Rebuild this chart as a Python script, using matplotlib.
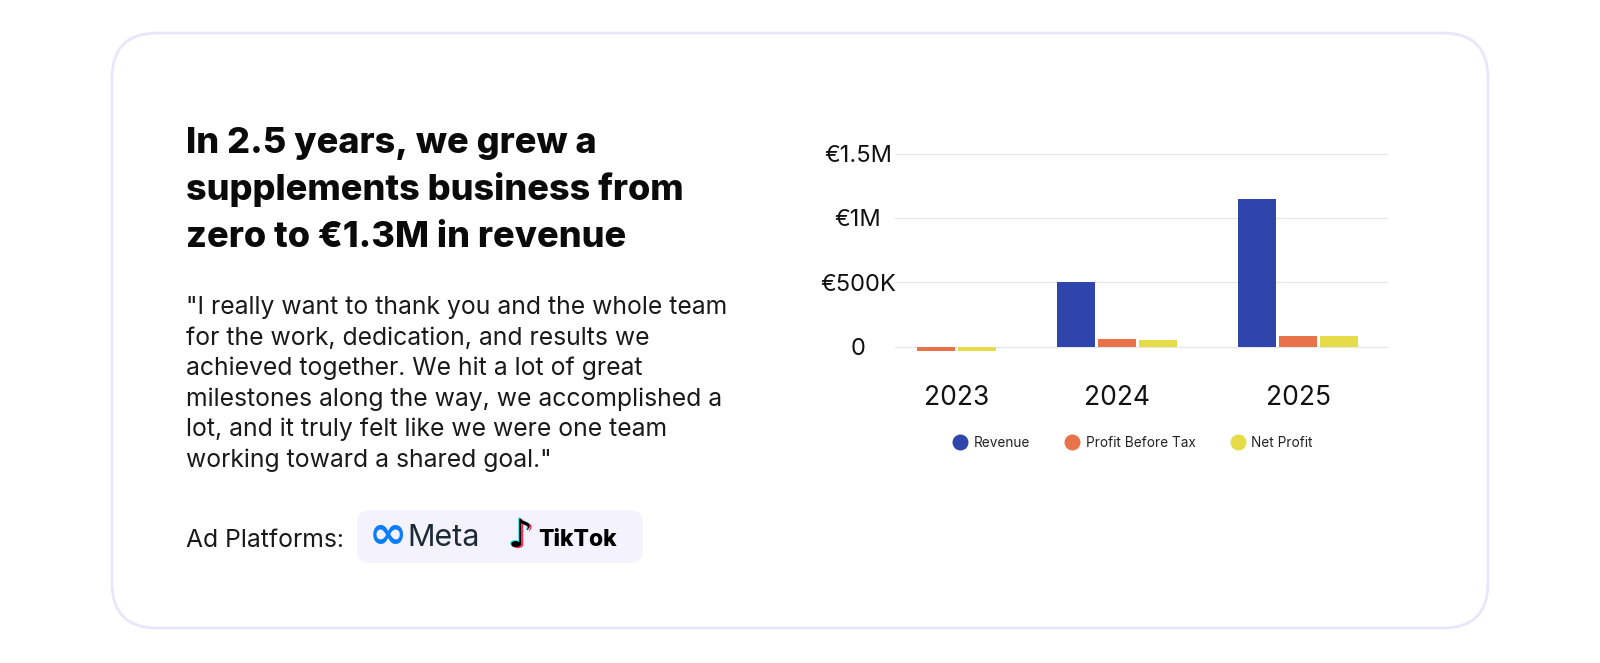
import matplotlib.pyplot as plt
from matplotlib.patches import FancyBboxPatch
from matplotlib.lines import Line2D
import numpy as np

# chart data
years = ["2023", "2024", "2025"]
revenue = [None, 500000, 1150000]
profit_before_tax = [-32000, 57000, 83000]
net_profit = [-32000, 55000, 82000]
series_names = ["Revenue", "Profit Before Tax", "Net Profit"]
series_colors = ["#2f45ab", "#e8734a", "#e6dc48"]
y_ticks = [0, 500000, 1000000, 1500000]
y_tick_labels = ["0", "€500K", "€1M", "€1.5M"]

title_lines = ["In 2.5 years, we grew a",
               "supplements business from",
               "zero to €1.3M in revenue"]
quote_lines = ['"I really want to thank you and the whole team',
               'for the work, dedication, and results we',
               'achieved together. We hit a lot of great',
               'milestones along the way, we accomplished a',
               'lot, and it truly felt like we were one team',
               'working toward a shared goal."']

W, H = 1600, 663
plt.rcParams["font.family"] = ["Inter", "DejaVu Sans"]

fig = plt.figure(figsize=(16, 6.63), dpi=100)
fig.patch.set_facecolor("white")

# background layer in pixel coordinates
bg = fig.add_axes([0, 0, 1, 1])
bg.set_xlim(0, W)
bg.set_ylim(H, 0)
bg.axis("off")

card = FancyBboxPatch((112, 33), 1376, 595, boxstyle="round,pad=0,rounding_size=45",
                      fc="white", ec="#e8e6fb", lw=2)
bg.add_patch(card)

for i, line in enumerate(title_lines):
    bg.text(186, 153 + i * 47, line, fontsize=26, fontweight="heavy", color="#0a0a0a",
            va="baseline", ha="left")

for i, line in enumerate(quote_lines):
    bg.text(186, 314 + i * 30.6, line, fontsize=17.8, color="#1a1a1a",
            va="baseline", ha="left")

bg.text(186, 547, "Ad Platforms:", fontsize=17.8, color="#1a1a1a",
        va="baseline", ha="left")

pill = FancyBboxPatch((357, 510), 286, 53, boxstyle="round,pad=0,rounding_size=14",
                      fc="#f3f2fd", ec="none")
bg.add_patch(pill)
bg.text(369, 536, "∞", fontsize=33, color="#0a7cff", va="center", ha="left",
        family=["DejaVu Sans"], fontweight="bold")
bg.text(407, 546, "Meta", fontsize=22, color="#1c2b33", va="baseline", ha="left")
for dx, dy, col in [(-1.5, -1, "#25f4ee"), (1.5, 1, "#fe2c55"), (0, 0, "#000000")]:
    bg.text(508 + dx, 536 + dy, "♪", fontsize=28, color=col, va="center", ha="left",
            family=["DejaVu Sans"], fontweight="bold")
bg.text(538, 546, "TikTok", fontsize=16.5, fontweight="heavy", color="#000000",
        va="baseline", ha="left")

# bar chart
px_per = 128.7 / 1e6
ylim = (-100000, 1550000)
zero_px = 346.7
top_px = zero_px - ylim[1] * px_per
bot_px = zero_px - ylim[0] * px_per
left_px, right_px = 895, 1388
group_px = 181
first_center = 936

ax = fig.add_axes([left_px / W, 1 - bot_px / H, (right_px - left_px) / W, (bot_px - top_px) / H])
ax.set_facecolor("none")
x = np.arange(len(years))
offsets = [-0.228, 0.0, 0.228]
width = 0.21
series = [revenue, profit_before_tax, net_profit]
centers = [[] for _ in years]
for vals, off, col in zip(series, offsets, series_colors):
    for i, v in enumerate(vals):
        if v is None:
            continue
        ax.bar(x[i] + off, v, width=width, color=col, zorder=3)
        centers[i].append(x[i] + off)

ax.set_xlim((left_px - first_center) / group_px, (right_px - first_center) / group_px)
ax.set_ylim(*ylim)
ax.set_yticks(y_ticks, y_tick_labels)
ax.set_xticks([np.mean(c) for c in centers], years)
for lab in ax.get_yticklabels():
    lab.set_horizontalalignment("center")
ax.tick_params(axis="y", length=0, pad=26.5, labelsize=17, labelcolor="#111111")
ax.tick_params(axis="x", length=0, pad=18.5, labelsize=19, labelcolor="#111111")
ax.grid(axis="y", color="#e8e8ec", lw=1, zorder=0)
for s in ax.spines.values():
    s.set_visible(False)

handles = [Line2D([], [], ls="none", marker="o", markersize=10.5, color=c) for c in series_colors]
fig.legend(handles, series_names, loc="center", bbox_to_anchor=(1133 / W, 1 - 443 / H),
           ncol=3, frameon=False, handlelength=1.0, handletextpad=0.5,
           columnspacing=2.6, prop={"size": 9.8}, labelcolor="#222222")

fig.savefig("out.png", dpi=100, facecolor="white")
